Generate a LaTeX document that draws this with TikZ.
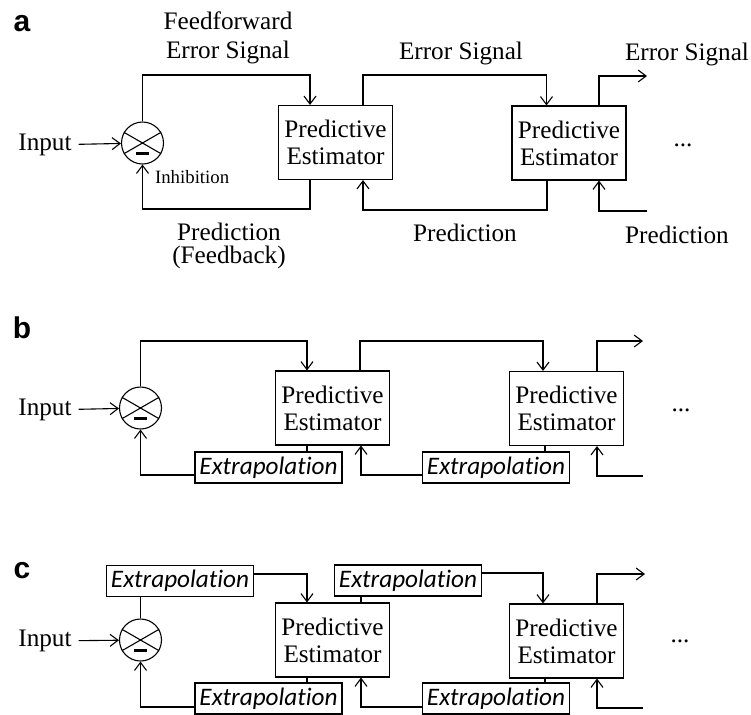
\documentclass[tikz,border=0pt]{standalone}
\usepackage{fontspec}
\setmainfont{Liberation Serif}
\newfontfamily\panelfont{Liberation Sans}
\newfontfamily\extrafont[Ligatures=NoCommon]{Carlito}
\usetikzlibrary{arrows.meta}

\tikzset{
  estimator/.style={draw, line width=0.55pt, minimum width=57pt, minimum height=37pt,
    inner sep=0pt, align=center, font=\fontsize{12.6}{13.4}\selectfont},
  extrapolation/.style={draw, fill=white, line width=0.75pt, minimum width=73.5pt,
    minimum height=15.5pt, inner sep=0pt, font=\extrafont\itshape\fontsize{12.6}{12.6}\selectfont},
  comparator/.style={draw, circle, line width=0.55pt, minimum size=21pt, inner sep=0pt},
  wire/.style={line width=0.55pt},
  signal/.style={wire, -{Straight Barb[length=4pt,width=6pt]}},
  caption/.style={align=center, font=\fontsize{12.6}{14}\selectfont},
  smallcaption/.style={anchor=west, font=\fontsize{9.4}{10}\selectfont},
  panel/.style={anchor=base, font=\panelfont\bfseries\fontsize{15}{15}\selectfont}
}

\newcommand{\sumnode}[2]{%
  \node[comparator] (#1) at (#2) {};
  \draw[wire] (#1.150) -- (#1.-30) (#1.30) -- (#1.210);
  \draw[line width=1.35pt] ([xshift=-3.3pt,yshift=-5.2pt]#1.center) -- ([xshift=3.3pt,yshift=-5.2pt]#1.center);
}

\begin{document}
\begin{tikzpicture}[x=0.5pt, y=-0.5pt]
  \useasboundingbox (0,0) rectangle (751,714);

  % a
  \node[panel] (labA) at (22,31.5) {a};
  \sumnode{sumA}{142.5,143}
  \node[estimator] (estA1) at (335.5,142.5) {Predictive\\Estimator};
  \node[estimator] (estA2) at (569,143) {Predictive\\Estimator};
  \node[caption] (inA) at (45,145) {Input};
  \node[caption] (dotsA) at (683,145) {...};
  \coordinate (outA) at (647,76);
  \coordinate (fbA) at (647,211);
  \draw[signal] (inA) -- (sumA);
  \draw[signal] (sumA.north) |- (310,75) -- (310,75 |- estA1.north);
  \draw[signal] (310,0 |- estA1.south) |- (142.5,209) -- (sumA.south);
  \draw[signal] (363,0 |- estA1.north) |- (546.5,75) -- (546.5,75 |- estA2.north);
  \draw[signal] (547,0 |- estA2.south) |- (363,210) -- (363,0 |- estA1.south);
  \draw[signal] (599,0 |- estA2.north) |- (outA);
  \draw[signal] (fbA) -| (599,0 |- estA2.south);
  \node[caption, font=\fontsize{12.6}{14.5}\selectfont] (ffA) at (228,38) {Feedforward\\Error Signal};
  \node[caption] (errA1) at (461,53) {Error Signal};
  \node[caption] (errA2) at (687,54) {Error Signal};
  \node[caption, font=\fontsize{12.6}{11.8}\selectfont] (fbkA) at (229,246) {Prediction\\(Feedback)};
  \node[caption] (predA1) at (465,233) {Prediction};
  \node[caption] (predA2) at (677,235) {Prediction};
  \node[smallcaption] (inhA) at (148,177) {Inhibition};

  % b
  \node[panel] (labB) at (22,338) {b};
  \sumnode{sumB}{140.5,408}
  \node[estimator] (estB1) at (332.5,408) {Predictive\\Estimator};
  \node[estimator] (estB2) at (566.5,408.5) {Predictive\\Estimator};
  \node[extrapolation] (extB1) at (268.5,467.5) {Extrapolation};
  \node[extrapolation] (extB2) at (496,467.5) {Extrapolation};
  \node[caption] (inB) at (45,410) {Input};
  \node[caption] (dotsB) at (681,410) {...};
  \coordinate (outB) at (643,341);
  \coordinate (fbB) at (643,476);
  \draw[signal] (inB) -- (sumB);
  \draw[signal] (sumB.north) |- (307,341) -- (307,341 |- estB1.north);
  \draw[signal] (360,0 |- estB1.north) |- (543,341) -- (543,341 |- estB2.north);
  \draw[wire] (307,0 |- estB1.south) -- (307,0 |- extB1.north);
  \draw[wire] (545,0 |- estB2.south) -- (545,0 |- extB2.north);
  \draw[signal] (extB1.west |- 0,475) -| (sumB.south);
  \draw[signal] (extB2.west |- 0,475) -| (361,0 |- estB1.south);
  \draw[signal] (597,0 |- estB2.north) |- (outB);
  \draw[signal] (fbB) -| (597,0 |- estB2.south);

  % c
  \node[panel] (labC) at (22,578) {c};
  \sumnode{sumC}{140.5,640}
  \node[estimator] (estC1) at (332.5,640) {Predictive\\Estimator};
  \node[estimator] (estC2) at (566.5,641) {Predictive\\Estimator};
  \node[extrapolation] (extC1) at (180,581) {Extrapolation};
  \node[extrapolation] (extC2) at (408,580.5) {Extrapolation};
  \node[extrapolation] (extC3) at (268.5,698.5) {Extrapolation};
  \node[extrapolation] (extC4) at (496,698.5) {Extrapolation};
  \node[caption] (inC) at (45,641) {Input};
  \node[caption] (dotsC) at (680,641) {...};
  \coordinate (outC) at (645,574);
  \coordinate (fbC) at (643,708);
  \draw[signal] (inC) -- (sumC);
  \draw[wire] (sumC.north) -- (sumC.north |- extC1.south);
  \draw[signal] (extC1.east |- 0,574) -| (307,0 |- estC1.north);
  \draw[wire] (361,0 |- estC1.north) -- (361,0 |- extC2.south);
  \draw[signal] (extC2.east |- 0,573) -| (543,0 |- estC2.north);
  \draw[wire] (307,0 |- estC1.south) -- (307,0 |- extC3.north);
  \draw[wire] (545,0 |- estC2.south) -- (545,0 |- extC4.north);
  \draw[signal] (extC3.west |- 0,707) -| (sumC.south);
  \draw[signal] (extC4.west |- 0,707) -| (361,0 |- estC1.south);
  \draw[signal] (597,0 |- estC2.north) |- (outC);
  \draw[signal] (fbC) -| (597,0 |- estC2.south);
\end{tikzpicture}
\end{document}
